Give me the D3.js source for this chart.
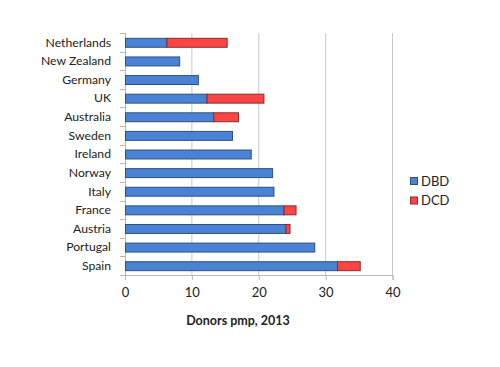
<!DOCTYPE html>
<html>
<head>
<meta charset="utf-8">
<script src="https://cdn.jsdelivr.net/npm/d3@7"></script>
<style>
  body { margin: 0; background: #fff; }
  svg text { font-family: Lato, "Open Sans", sans-serif; fill: #222; }
</style>
</head>
<body>
<svg id="chart" width="500" height="367"></svg>
<script>
// data
const countries = ["Netherlands", "New Zealand", "Germany", "UK", "Australia", "Sweden",
  "Ireland", "Norway", "Italy", "France", "Austria", "Portugal", "Spain"];
const dbd = [6.2, 8.1, 10.9, 12.2, 13.2, 16.0, 18.8, 22.0, 22.2, 23.7, 24.0, 28.3, 31.7];
const dcd = [9.0, 0, 0, 8.5, 3.7, 0, 0, 0, 0, 1.8, 0.6, 0, 3.4];
const xTicks = [0, 10, 20, 30, 40];
const seriesNames = ["DBD", "DCD"];

const colors = { DBD: "#4a83d6", DCD: "#fe4545" };
const strokes = { DBD: "#2f4f7f", DCD: "#8a2a2a" };

const plotLeft = 125, plotRight = 392.5, plotTop = 33, plotBottom = 275;

const svg = d3.select("#chart");

const x = d3.scaleLinear().domain([0, 40]).range([plotLeft, plotRight]);
const y = d3.scaleBand().domain(countries).range([plotTop, plotBottom]).paddingInner(0.52).paddingOuter(0.26);

// gridlines
svg.append("g")
  .selectAll("line")
  .data(xTicks.slice(1))
  .join("line")
  .attr("x1", d => x(d)).attr("x2", d => x(d))
  .attr("y1", plotTop).attr("y2", plotBottom)
  .attr("stroke", "#c8c8c8").attr("stroke-width", 1);

// x axis
const xAxis = d3.axisBottom(x).tickValues(xTicks).tickSize(5).tickPadding(8);
const gx = svg.append("g").attr("transform", `translate(0,${plotBottom})`).call(xAxis);
gx.select(".domain").attr("stroke", "#b8b8b8");
gx.selectAll(".tick line").attr("stroke", "#b8b8b8");
gx.selectAll(".tick text").attr("font-size", 13).attr("fill", "#222")
  .attr("font-family", "Lato, sans-serif");

// y axis line + ticks between categories
svg.append("line")
  .attr("x1", plotLeft + 0.5).attr("x2", plotLeft + 0.5)
  .attr("y1", plotTop).attr("y2", plotBottom)
  .attr("stroke", "#b8b8b8");
svg.append("g")
  .selectAll("line")
  .data(d3.range(countries.length + 1))
  .join("line")
  .attr("x1", plotLeft - 5).attr("x2", plotLeft)
  .attr("y1", i => Math.round(plotTop + i * (plotBottom - plotTop) / countries.length) + 0.5)
  .attr("y2", i => Math.round(plotTop + i * (plotBottom - plotTop) / countries.length) + 0.5)
  .attr("stroke", "#b8b8b8");

// labels
svg.append("g")
  .selectAll("text")
  .data(countries)
  .join("text")
  .attr("x", 111)
  .attr("y", d => y(d) + y.bandwidth() / 2)
  .attr("dy", "0.35em")
  .attr("text-anchor", "end")
  .attr("font-size", 12.2)
  .text(d => d);

// bars
const rows = countries.map((c, i) => ({ c, DBD: dbd[i], DCD: dcd[i] }));
const stack = d3.stack().keys(seriesNames)(rows);

svg.append("g")
  .selectAll("g")
  .data(stack)
  .join("g")
  .attr("fill", s => colors[s.key])
  .attr("stroke", s => strokes[s.key])
  .selectAll("rect")
  .data(s => s.filter(d => d[1] - d[0] > 0))
  .join("rect")
  .attr("x", d => x(d[0]) + 0.5)
  .attr("y", d => y(d.data.c) + 0.5)
  .attr("width", d => x(d[1]) - x(d[0]))
  .attr("height", y.bandwidth())
  .attr("stroke-width", 1);

// legend
const legend = svg.append("g").attr("transform", "translate(410,177)");
legend.selectAll("g")
  .data(seriesNames)
  .join("g")
  .attr("transform", (d, i) => `translate(0,${i * 19.5})`)
  .call(g => g.append("rect")
    .attr("x", 0.5).attr("y", 0.5).attr("width", 7).attr("height", 7)
    .attr("fill", d => colors[d]).attr("stroke", d => strokes[d]))
  .call(g => g.append("text")
    .attr("x", 11).attr("y", 4).attr("dy", "0.35em")
    .attr("font-size", 13)
    .text(d => d));

// axis title
svg.append("text")
  .attr("x", 238)
  .attr("y", 325)
  .attr("text-anchor", "middle")
  .attr("font-size", 12.5)
  .attr("font-weight", "bold")
  .text("Donors pmp, 2013");
</script>
</body>
</html>
